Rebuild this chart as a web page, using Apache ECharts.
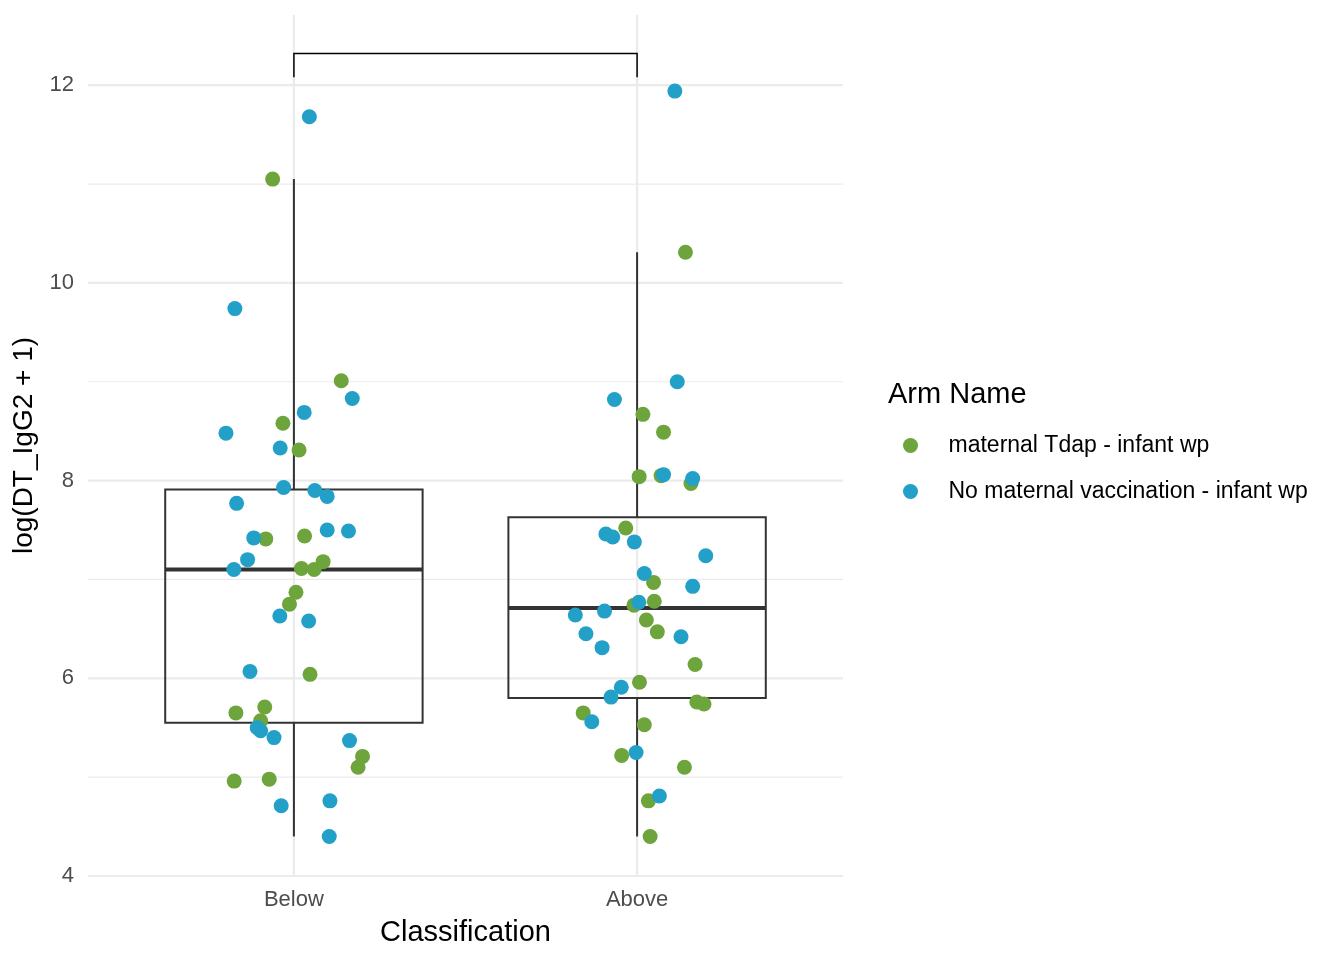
<!DOCTYPE html>
<html>
<head>
<meta charset="utf-8">
<style>
  html, body { margin: 0; padding: 0; background: #fff; }
  #chart-container { width: 1344px; height: 960px; }
</style>
<script src="https://cdn.jsdelivr.net/npm/echarts@6/dist/echarts.min.js"></script>
</head>
<body>
<div id="chart-container"></div>
<script>
// categories and their positions on the x scale
var categories = ['Below', 'Above'];
var catPos = [1, 2];

// box plot stats per category
var boxLow = [4.40, 4.40];
var boxQ1 = [5.55, 5.80];
var boxMed = [7.10, 6.71];
var boxQ3 = [7.91, 7.63];
var boxHigh = [11.05, 10.31];

// jittered points [x, y]
var tdapPoints = [
  [0.938, 11.05], [1.138, 9.01], [0.968, 8.58], [1.015, 8.31], [0.918, 7.41],
  [1.031, 7.44], [1.022, 7.11], [1.059, 7.10], [1.085, 7.18], [1.006, 6.87],
  [0.987, 6.75], [1.047, 6.04], [0.831, 5.65], [0.915, 5.71], [0.903, 5.57],
  [1.200, 5.21], [1.187, 5.10], [0.826, 4.96], [0.928, 4.98],
  [2.141, 10.31], [2.017, 8.67], [2.077, 8.49], [2.006, 8.04], [2.070, 8.05],
  [2.157, 7.97], [1.967, 7.52], [2.048, 6.97], [2.050, 6.78], [1.991, 6.74],
  [2.027, 6.59], [2.059, 6.47], [2.169, 6.14], [2.007, 5.96], [2.174, 5.76],
  [2.195, 5.74], [1.843, 5.65], [2.021, 5.53], [1.955, 5.22], [2.138, 5.10],
  [2.033, 4.76], [2.038, 4.40]
];
var noVaxPoints = [
  [1.045, 11.68], [0.828, 9.74], [1.170, 8.83], [1.030, 8.69], [0.802, 8.48],
  [0.960, 8.33], [0.970, 7.93], [1.061, 7.90], [1.097, 7.84], [0.833, 7.77],
  [0.883, 7.42], [1.097, 7.50], [1.159, 7.49], [0.865, 7.20], [0.825, 7.10],
  [0.959, 6.63], [1.043, 6.58], [0.872, 6.07], [0.893, 5.50], [0.903, 5.47],
  [0.942, 5.40], [1.162, 5.37], [0.963, 4.71], [1.105, 4.76], [1.103, 4.40],
  [2.110, 11.94], [2.117, 9.00], [1.934, 8.82], [2.077, 8.06], [2.162, 8.02],
  [1.909, 7.46], [1.929, 7.43], [1.992, 7.38], [2.200, 7.24], [2.021, 7.06],
  [2.162, 6.93], [2.005, 6.77], [1.905, 6.68], [1.820, 6.64], [1.851, 6.45],
  [2.128, 6.42], [1.898, 6.31], [1.954, 5.91], [1.924, 5.81], [1.868, 5.56],
  [1.997, 5.25], [2.065, 4.81]
];

// significance bracket
var bracketX = [1, 2];
var bracketTop = 12.32;
var bracketFoot = 12.08;

// axis ticks / grid
var majorY = [4, 6, 8, 10, 12];
var minorY = [5, 7, 9, 11];
var xMin = 0.4, xMax = 2.6;
var yMin = 4, yMax = 12.71;

var boxWidth = 0.75;
var fontFamily = '"Liberation Sans", Arial, sans-serif';

var dom = document.getElementById('chart-container');
var myChart = echarts.init(dom, null, { renderer: 'canvas' });

function gridSeries(data, horizontal, width) {
  return {
    type: 'custom',
    silent: true,
    z: 0,
    data: data,
    renderItem: function (params, api) {
      var a, b;
      if (horizontal) {
        a = api.coord([xMin, api.value(1)]);
        b = api.coord([xMax, api.value(1)]);
      } else {
        a = api.coord([api.value(0), yMin]);
        b = api.coord([api.value(0), yMax]);
      }
      return {
        type: 'line',
        shape: { x1: a[0], y1: a[1], x2: b[0], y2: b[1] },
        style: { stroke: '#ebebeb', lineWidth: width }
      };
    }
  };
}

var boxData = catPos.map(function (c, i) {
  return [c, boxLow[i], boxQ1[i], boxMed[i], boxQ3[i], boxHigh[i]];
});

var option = {
  animation: false,
  textStyle: { fontFamily: fontFamily },
  title: {
    text: 'Arm Name',
    left: 883,
    top: 375,
    textStyle: { fontSize: 29, fontWeight: 'normal', color: '#000', fontFamily: fontFamily }
  },
  legend: {
    orient: 'vertical',
    left: 898,
    top: 429,
    itemWidth: 66,
    itemHeight: 15,
    itemGap: 23,
    textStyle: { fontSize: 23, color: '#000', fontFamily: fontFamily },
    data: [
      { name: 'maternal Tdap - infant wp', icon: 'circle' },
      { name: 'No maternal vaccination - infant wp', icon: 'circle' }
    ]
  },
  grid: { left: 88, top: 15, width: 755, height: 861 },
  xAxis: {
    type: 'value',
    min: xMin,
    max: xMax,
    interval: 0.2,
    axisLine: { show: false },
    axisTick: { show: false },
    splitLine: { show: false },
    axisLabel: {
      fontSize: 22,
      color: '#4d4d4d',
      margin: 13,
      formatter: function (v) {
        for (var i = 0; i < catPos.length; i++) {
          if (Math.abs(catPos[i] - v) < 1e-6) return categories[i];
        }
        return '';
      }
    },
    name: 'Classification',
    nameLocation: 'middle',
    nameGap: 42,
    nameTextStyle: { fontSize: 29, color: '#000' }
  },
  yAxis: {
    type: 'value',
    min: yMin,
    max: yMax,
    interval: 2,
    axisLine: { show: false },
    axisTick: { show: false },
    splitLine: { show: false },
    axisLabel: {
      fontSize: 22,
      color: '#4d4d4d',
      margin: 14,
      formatter: function (v) {
        return majorY.indexOf(v) >= 0 ? String(v) : '';
      }
    },
    name: 'log(DT_IgG2 + 1)',
    nameLocation: 'middle',
    nameGap: 45,
    nameTextStyle: { fontSize: 28, color: '#000' }
  },
  series: [
    gridSeries(minorY.map(function (v) { return [xMin, v]; }), true, 1.2),
    gridSeries(majorY.map(function (v) { return [xMin, v]; }), true, 2.2),
    gridSeries(catPos.map(function (c) { return [c, yMin]; }), false, 2.2),
    {
      type: 'custom',
      silent: true,
      z: 2,
      data: boxData,
      encode: { x: 0, y: [1, 2, 3, 4, 5] },
      renderItem: function (params, api) {
        var x = api.value(0);
        var half = boxWidth / 2;
        var pLow = api.coord([x, api.value(1)]);
        var pQ1 = api.coord([x, api.value(2)]);
        var pQ3 = api.coord([x, api.value(4)]);
        var pHigh = api.coord([x, api.value(5)]);
        var tl = api.coord([x - half, api.value(4)]);
        var br = api.coord([x + half, api.value(2)]);
        var mL = api.coord([x - half, api.value(3)]);
        var mR = api.coord([x + half, api.value(3)]);
        var st = { stroke: '#333333', lineWidth: 2, fill: null };
        return {
          type: 'group',
          children: [
            { type: 'line', shape: { x1: pLow[0], y1: pLow[1], x2: pQ1[0], y2: pQ1[1] }, style: st },
            { type: 'line', shape: { x1: pQ3[0], y1: pQ3[1], x2: pHigh[0], y2: pHigh[1] }, style: st },
            { type: 'rect', shape: { x: tl[0], y: tl[1], width: br[0] - tl[0], height: br[1] - tl[1] }, style: st },
            { type: 'line', shape: { x1: mL[0], y1: mL[1], x2: mR[0], y2: mR[1] }, style: { stroke: '#333333', lineWidth: 4 } }
          ]
        };
      }
    },
    {
      type: 'custom',
      silent: true,
      z: 2,
      data: [[bracketX[0], bracketFoot, bracketX[1], bracketTop]],
      renderItem: function (params, api) {
        var x0 = api.value(0), x1 = api.value(2);
        var foot = api.value(1), top = api.value(3);
        var pts = [
          api.coord([x0, foot]), api.coord([x0, top]),
          api.coord([x1, top]), api.coord([x1, foot])
        ];
        return {
          type: 'polyline',
          shape: { points: pts },
          style: { stroke: '#000', lineWidth: 1.5, fill: null }
        };
      }
    },
    {
      name: 'maternal Tdap - infant wp',
      type: 'scatter',
      z: 3,
      symbolSize: 15,
      itemStyle: { color: '#6DA53C', opacity: 1 },
      data: tdapPoints
    },
    {
      name: 'No maternal vaccination - infant wp',
      type: 'scatter',
      z: 4,
      symbolSize: 15,
      itemStyle: { color: '#22A0C8', opacity: 1 },
      data: noVaxPoints
    }
  ]
};

if (option && typeof option === 'object') {
  myChart.setOption(option);
}

window.addEventListener('resize', myChart.resize);
</script>
</body>
</html>
